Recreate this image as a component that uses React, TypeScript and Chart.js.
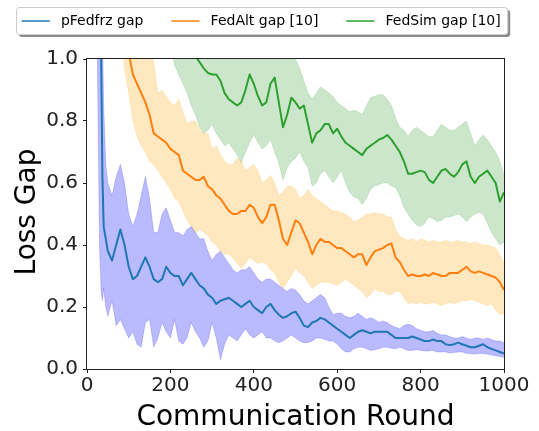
import React, { useEffect, useRef } from 'react';
import { Chart, registerables } from 'chart.js';

Chart.register(...registerables);

const seriesNames = ['pFedfrz gap', 'FedAlt gap [10]', 'FedSim gap [10]'];
const lineColors = ['#1f77b4', '#ff7f0e', '#2ca02c'];
const bandColors = ['rgba(0, 0, 255, 0.27)', 'rgba(255, 165, 0, 0.25)', 'rgba(0, 128, 0, 0.2)'];
const bandEdgeColors = ['rgba(0, 0, 255, 0.22)', 'rgba(255, 165, 0, 0.2)', 'rgba(0, 128, 0, 0.16)'];

const xTitle = 'Communication Round';
const yTitle = 'Loss Gap';
const xTicks = [0, 200, 400, 600, 800, 1000];
const yTicks = [0, 0.2, 0.4, 0.6, 0.8, 1.0];
const roundStep = 10;

// pFedfrz gap: dense samples over the first rounds, then every 10 rounds from 50
const pfedHeadRounds = [20, 25, 30, 34, 37, 40, 45];
const pfedHeadMean = [3.0, 2.0, 1.4, 1.0, 0.62, 0.46, 0.42];
const pfedHeadUpper = [4.0, 3.0, 2.2, 1.6, 1.1, 0.85, 0.66];
const pfedHeadLower = [1.5, 0.98, 0.4, 0.25, 0.22, 0.26, 0.2];
const pfedTailStart = 50;
const pfedMean = [
  0.38, 0.35, 0.40, 0.45, 0.40, 0.33, 0.29, 0.30, 0.33, 0.36,
  0.33, 0.29, 0.28, 0.29, 0.33, 0.31, 0.30, 0.30, 0.27, 0.29,
  0.31, 0.29, 0.27, 0.26, 0.24, 0.23, 0.21, 0.22, 0.225, 0.23,
  0.22, 0.21, 0.20, 0.21, 0.22, 0.20, 0.19, 0.18, 0.20, 0.21,
  0.19, 0.175, 0.165, 0.17, 0.18, 0.185, 0.165, 0.14, 0.135, 0.15,
  0.155, 0.165, 0.16, 0.15, 0.14, 0.13, 0.12, 0.11, 0.10, 0.11,
  0.12, 0.125, 0.12, 0.115, 0.12, 0.12, 0.12, 0.12, 0.11, 0.10,
  0.10, 0.10, 0.10, 0.105, 0.10, 0.095, 0.09, 0.09, 0.095, 0.09,
  0.09, 0.08, 0.077, 0.08, 0.085, 0.08, 0.075, 0.07, 0.07, 0.075,
  0.08, 0.07, 0.065, 0.06, 0.055, 0.05,
];
const pfedUpper = [
  0.60, 0.56, 0.62, 0.66, 0.60, 0.50, 0.46, 0.50, 0.56, 0.62,
  0.55, 0.44, 0.44, 0.50, 0.52, 0.48, 0.44, 0.44, 0.43, 0.45,
  0.46, 0.44, 0.42, 0.42, 0.38, 0.35, 0.37, 0.38, 0.36, 0.34,
  0.32, 0.31, 0.32, 0.32, 0.33, 0.31, 0.29, 0.28, 0.29, 0.29,
  0.28, 0.27, 0.26, 0.25, 0.26, 0.255, 0.24, 0.22, 0.21, 0.22,
  0.23, 0.24, 0.23, 0.20, 0.175, 0.18, 0.18, 0.17, 0.165, 0.17,
  0.18, 0.17, 0.16, 0.165, 0.16, 0.15, 0.155, 0.15, 0.14, 0.135,
  0.13, 0.14, 0.145, 0.14, 0.13, 0.125, 0.12, 0.12, 0.125, 0.115,
  0.11, 0.11, 0.105, 0.10, 0.10, 0.105, 0.10, 0.095, 0.10, 0.10,
  0.095, 0.10, 0.095, 0.09, 0.09, 0.085,
];
const pfedLower = [
  0.17, 0.22, 0.14, 0.16, 0.13, 0.10, 0.12, 0.08, 0.07, 0.15,
  0.16, 0.07, 0.10, 0.15, 0.12, 0.10, 0.16, 0.09, 0.08, 0.10,
  0.15, 0.12, 0.10, 0.07, 0.09, 0.15, 0.10, 0.03, 0.08, 0.11,
  0.10, 0.09, 0.11, 0.13, 0.11, 0.10, 0.11, 0.12, 0.10, 0.10,
  0.09, 0.085, 0.09, 0.10, 0.11, 0.10, 0.09, 0.085, 0.085, 0.09,
  0.10, 0.10, 0.095, 0.09, 0.09, 0.08, 0.065, 0.055, 0.055, 0.065,
  0.07, 0.07, 0.065, 0.06, 0.062, 0.065, 0.07, 0.07, 0.067, 0.065,
  0.07, 0.065, 0.06, 0.06, 0.062, 0.06, 0.058, 0.058, 0.06, 0.055,
  0.055, 0.055, 0.052, 0.053, 0.055, 0.055, 0.05, 0.05, 0.048, 0.05,
  0.05, 0.048, 0.045, 0.043, 0.04, 0.038,
];

// FedAlt gap [10]: every 10 rounds from 80
const fedAltStart = 80;
const fedAltMean = [
  1.20, 1.10, 1.02, 0.95, 0.92, 0.89, 0.86, 0.82, 0.76, 0.75,
  0.74, 0.73, 0.71, 0.70, 0.69, 0.64, 0.63, 0.62, 0.61, 0.61,
  0.62, 0.59, 0.58, 0.56, 0.55, 0.53, 0.51, 0.50, 0.50, 0.51,
  0.51, 0.53, 0.52, 0.49, 0.47, 0.49, 0.53, 0.53, 0.48, 0.42,
  0.40, 0.44, 0.48, 0.47, 0.44, 0.41, 0.37, 0.40, 0.42, 0.41,
  0.41, 0.40, 0.39, 0.39, 0.38, 0.37, 0.36, 0.37, 0.37, 0.335,
  0.36, 0.38, 0.385, 0.39, 0.40, 0.405, 0.36, 0.345, 0.32, 0.30,
  0.305, 0.30, 0.30, 0.305, 0.30, 0.31, 0.305, 0.30, 0.30, 0.31,
  0.31, 0.31, 0.32, 0.33, 0.315, 0.31, 0.315, 0.31, 0.305, 0.30,
  0.295, 0.28, 0.255,
];
const fedAltUpper = [
  1.35, 1.30, 1.25, 1.20, 1.15, 1.12, 1.08, 1.05, 0.99, 0.89,
  0.90, 0.88, 0.86, 0.85, 0.87, 0.83, 0.79, 0.80, 0.80, 0.77,
  0.76, 0.76, 0.71, 0.72, 0.69, 0.67, 0.66, 0.66, 0.68, 0.67,
  0.64, 0.65, 0.66, 0.64, 0.60, 0.61, 0.625, 0.60, 0.56, 0.57,
  0.59, 0.59, 0.58, 0.55, 0.56, 0.58, 0.56, 0.55, 0.54, 0.53,
  0.52, 0.51, 0.51, 0.505, 0.50, 0.49, 0.475, 0.48, 0.49, 0.50,
  0.50, 0.505, 0.50, 0.50, 0.49, 0.49, 0.45, 0.43, 0.42, 0.415,
  0.42, 0.41, 0.42, 0.415, 0.41, 0.415, 0.41, 0.41, 0.415, 0.41,
  0.41, 0.415, 0.41, 0.41, 0.405, 0.41, 0.405, 0.40, 0.40, 0.395,
  0.39, 0.37, 0.34,
];
const fedAltLower = [
  1.12, 0.97, 0.89, 0.80, 0.75, 0.72, 0.70, 0.67, 0.66, 0.64,
  0.62, 0.60, 0.58, 0.55, 0.54, 0.51, 0.48, 0.46, 0.44, 0.45,
  0.44, 0.43, 0.41, 0.40, 0.38, 0.37, 0.37, 0.36, 0.34, 0.325,
  0.34, 0.36, 0.35, 0.34, 0.345, 0.34, 0.32, 0.31, 0.28, 0.26,
  0.28, 0.30, 0.325, 0.31, 0.30, 0.28, 0.26, 0.27, 0.28, 0.28,
  0.28, 0.275, 0.27, 0.28, 0.29, 0.28, 0.27, 0.26, 0.25, 0.23,
  0.24, 0.26, 0.25, 0.25, 0.24, 0.24, 0.25, 0.25, 0.23, 0.21,
  0.215, 0.21, 0.215, 0.21, 0.21, 0.215, 0.21, 0.205, 0.21, 0.215,
  0.21, 0.215, 0.22, 0.22, 0.225, 0.22, 0.215, 0.21, 0.205, 0.21,
  0.19, 0.175, 0.18,
];

// FedSim gap [10]: every 10 rounds from 200
const fedSimStart = 200;
const fedSimMean = [
  1.25, 1.20, 1.15, 1.11, 1.08, 1.05, 1.01, 0.99, 0.97, 0.955,
  0.95, 0.95, 0.93, 0.89, 0.87, 0.86, 0.85, 0.86, 0.90, 0.95,
  0.92, 0.88, 0.85, 0.86, 0.92, 0.94, 0.86, 0.78, 0.82, 0.875,
  0.86, 0.84, 0.85, 0.79, 0.73, 0.76, 0.77, 0.79, 0.79, 0.76,
  0.775, 0.75, 0.73, 0.72, 0.71, 0.70, 0.69, 0.71, 0.72, 0.73,
  0.74, 0.745, 0.755, 0.74, 0.72, 0.70, 0.67, 0.63, 0.63, 0.635,
  0.64, 0.635, 0.61, 0.60, 0.62, 0.64, 0.645, 0.63, 0.62, 0.635,
  0.66, 0.67, 0.62, 0.60, 0.62, 0.63, 0.64, 0.62, 0.60, 0.54,
  0.57,
];
const fedSimUpper = [
  1.40, 1.38, 1.36, 1.34, 1.32, 1.30, 1.28, 1.26, 1.24, 1.22,
  1.20, 1.19, 1.18, 1.17, 1.16, 1.15, 1.14, 1.13, 1.12, 1.11,
  1.10, 1.09, 1.08, 1.07, 1.06, 1.06, 1.05, 1.04, 1.03, 1.02,
  1.00, 0.97, 0.93, 0.89, 0.87, 0.89, 0.91, 0.90, 0.89, 0.88,
  0.86, 0.85, 0.84, 0.83, 0.835, 0.83, 0.82, 0.85, 0.875, 0.88,
  0.885, 0.885, 0.87, 0.85, 0.81, 0.78, 0.77, 0.75, 0.77, 0.78,
  0.77, 0.76, 0.75, 0.75, 0.77, 0.79, 0.78, 0.77, 0.77, 0.78,
  0.79, 0.80, 0.76, 0.72, 0.74, 0.755, 0.74, 0.72, 0.70, 0.67,
  0.625,
];
const fedSimLower = [
  1.05, 0.98, 0.95, 0.92, 0.89, 0.85, 0.82, 0.78, 0.76, 0.77,
  0.79, 0.76, 0.74, 0.72, 0.73, 0.71, 0.69, 0.665, 0.70, 0.73,
  0.755, 0.73, 0.71, 0.72, 0.74, 0.70, 0.665, 0.61, 0.65, 0.67,
  0.68, 0.70, 0.67, 0.65, 0.59, 0.60, 0.63, 0.64, 0.62, 0.60,
  0.62, 0.64, 0.60, 0.57, 0.555, 0.55, 0.53, 0.55, 0.58, 0.59,
  0.595, 0.60, 0.60, 0.59, 0.585, 0.56, 0.52, 0.50, 0.48, 0.465,
  0.46, 0.47, 0.49, 0.485, 0.475, 0.48, 0.49, 0.49, 0.495, 0.50,
  0.49, 0.475, 0.49, 0.50, 0.505, 0.50, 0.47, 0.44, 0.42, 0.40,
  0.41,
];

type Pt = { x: number; y: number };

const roundsFrom = (start: number, count: number) =>
  Array.from({ length: count }, (_, i) => start + i * roundStep);

const toPoints = (rounds: number[], values: number[]): Pt[] =>
  values.map((y, i) => ({ x: rounds[i], y }));

const pfedRounds = [...pfedHeadRounds, ...roundsFrom(pfedTailStart, pfedMean.length)];
const fedAltRounds = roundsFrom(fedAltStart, fedAltMean.length);
const fedSimRounds = roundsFrom(fedSimStart, fedSimMean.length);

const series = [
  {
    rounds: pfedRounds,
    mean: [...pfedHeadMean, ...pfedMean],
    upper: [...pfedHeadUpper, ...pfedUpper],
    lower: [...pfedHeadLower, ...pfedLower],
  },
  { rounds: fedAltRounds, mean: fedAltMean, upper: fedAltUpper, lower: fedAltLower },
  { rounds: fedSimRounds, mean: fedSimMean, upper: fedSimUpper, lower: fedSimLower },
];

const FONT = '"DejaVu Sans", "Liberation Sans", sans-serif';

// Framed legend with a drop shadow, laid out in one row above the axes
const topLegend = {
  id: 'topLegend',
  afterDraw(chart: any) {
    const ctx: CanvasRenderingContext2D = chart.ctx;
    ctx.save();
    ctx.font = `14px ${FONT}`;
    const left = 16.5;
    const top = 7.5;
    const height = 27;
    const pad = 5.2;
    const handle = 28;
    const textPad = 11.2;
    const colSpace = 28;
    const starts: number[] = [];
    let x = left + pad;
    seriesNames.forEach((name) => {
      starts.push(x);
      x += handle + textPad + ctx.measureText(name).width + colSpace;
    });
    const right = x - colSpace + 7;
    const width = right - left;

    ctx.fillStyle = 'rgba(0, 0, 0, 0.45)';
    ctx.beginPath();
    ctx.roundRect(left + 2.5, top + 2.5, width, height, 3);
    ctx.fill();

    ctx.fillStyle = '#ffffff';
    ctx.strokeStyle = '#cccccc';
    ctx.lineWidth = 1;
    ctx.beginPath();
    ctx.roundRect(left, top, width, height, 3);
    ctx.fill();
    ctx.stroke();

    const cy = top + height / 2;
    ctx.textBaseline = 'middle';
    ctx.textAlign = 'left';
    seriesNames.forEach((name, i) => {
      const sx = starts[i];
      ctx.strokeStyle = lineColors[i];
      ctx.lineWidth = 1.5;
      ctx.beginPath();
      ctx.moveTo(sx, cy);
      ctx.lineTo(sx + handle, cy);
      ctx.stroke();
      ctx.fillStyle = '#000000';
      ctx.fillText(name, sx + handle + textPad, cy + 0.5);
    });
    ctx.restore();
  },
};

// Four-sided frame around the plotting area plus the axis titles
const frameAndTitles = {
  id: 'frameAndTitles',
  afterDraw(chart: any) {
    const ctx: CanvasRenderingContext2D = chart.ctx;
    const { left, right, top, bottom } = chart.chartArea;
    ctx.save();
    ctx.strokeStyle = '#222222';
    ctx.lineWidth = 1;
    ctx.strokeRect(left - 0.5, top - 0.5, right - left + 1, bottom - top + 1);

    ctx.fillStyle = '#000000';
    ctx.font = `28px ${FONT}`;
    ctx.textAlign = 'center';
    ctx.textBaseline = 'alphabetic';
    ctx.fillText(xTitle, (left + right) / 2, 425);

    ctx.translate(35, 212);
    ctx.rotate(-Math.PI / 2);
    ctx.fillText(yTitle, 0, 0);
    ctx.restore();
  },
};

export default function App() {
  const canvasRef = useRef<HTMLCanvasElement | null>(null);

  useEffect(() => {
    const canvas = canvasRef.current;
    if (!canvas) return;

    const bandSets: any[] = [];
    series.forEach((s, i) => {
      bandSets.push({
        label: `${seriesNames[i]} lower`,
        data: toPoints(s.rounds, s.lower),
        borderColor: bandEdgeColors[i],
        borderWidth: 0.8,
        backgroundColor: bandColors[i],
        pointRadius: 0,
        fill: false,
        order: 2,
        clip: 0,
      });
      bandSets.push({
        label: `${seriesNames[i]} upper`,
        data: toPoints(s.rounds, s.upper),
        borderColor: bandEdgeColors[i],
        borderWidth: 0.8,
        backgroundColor: bandColors[i],
        pointRadius: 0,
        fill: '-1',
        order: 2,
        clip: 0,
      });
    });

    const lineSets = series.map((s, i) => ({
      label: seriesNames[i],
      data: toPoints(s.rounds, s.mean),
      borderColor: lineColors[i],
      borderWidth: 2,
      borderJoinStyle: 'round',
      pointRadius: 0,
      fill: false,
      order: 1,
      clip: 0,
    }));

    const chart = new Chart(canvas, {
      type: 'line',
      data: { datasets: [...bandSets, ...lineSets] },
      options: {
        responsive: false,
        animation: false,
        devicePixelRatio: 1,
        parsing: true,
        elements: { line: { tension: 0 } },
        layout: { padding: { left: 0, top: 59, right: 35, bottom: 0 } },
        plugins: {
          legend: { display: false },
          tooltip: { enabled: false },
          title: { display: false },
        },
        scales: {
          x: {
            type: 'linear',
            min: 0,
            max: 1000,
            afterBuildTicks: (scale: any) => {
              scale.ticks = xTicks.map((v) => ({ value: v }));
            },
            afterFit: (scale: any) => {
              scale.height = 62;
            },
            ticks: {
              color: '#222222',
              font: { family: FONT, size: 20 },
              padding: 1,
              maxRotation: 0,
              autoSkip: false,
              callback: (v: any) => String(v),
            },
            grid: {
              drawOnChartArea: false,
              drawTicks: true,
              tickLength: 4,
              color: '#222222',
            },
            border: { display: false },
          },
          y: {
            type: 'linear',
            min: 0,
            max: 1,
            afterBuildTicks: (scale: any) => {
              scale.ticks = yTicks.map((v) => ({ value: v }));
            },
            afterFit: (scale: any) => {
              scale.width = 87;
            },
            ticks: {
              color: '#222222',
              font: { family: FONT, size: 20 },
              padding: 5,
              autoSkip: false,
              callback: (v: any) => Number(v).toFixed(1),
            },
            grid: {
              drawOnChartArea: false,
              drawTicks: true,
              tickLength: 4,
              color: '#222222',
            },
            border: { display: false },
          },
        },
      } as any,
      plugins: [topLegend, frameAndTitles],
    });

    return () => chart.destroy();
  }, []);

  return (
    <div style={{ position: 'fixed', left: 0, top: 0, width: 539, height: 431, background: '#ffffff' }}>
      <canvas ref={canvasRef} width={539} height={431} style={{ width: 539, height: 431, display: 'block' }} />
    </div>
  );
}
